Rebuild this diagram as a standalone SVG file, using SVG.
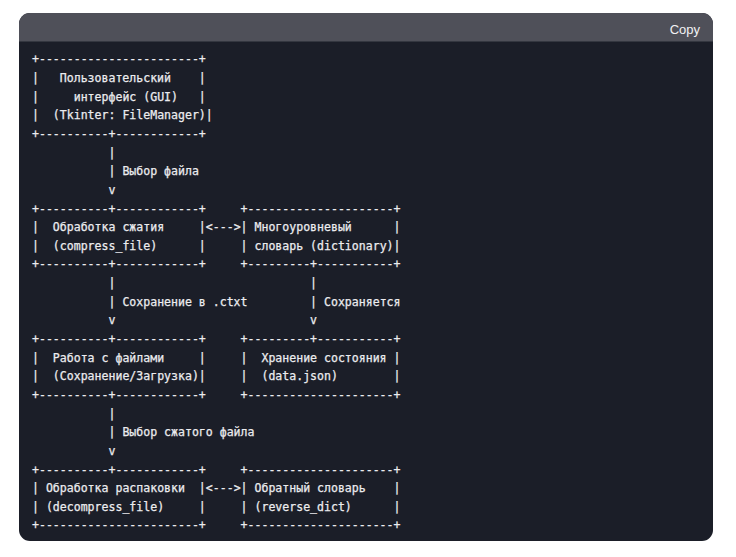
<svg xmlns="http://www.w3.org/2000/svg" width="736" height="557" viewBox="0 0 736 557">
<style>
  .code { font-family: "DejaVu Sans Mono", "Liberation Mono", monospace; font-size: 11.55px; fill: #ececef; stroke: #ececef; stroke-width: 0.25px; }
  .copy { font-family: "Liberation Sans", "Noto Sans", Arial, sans-serif; font-size: 13px; fill: #f2f2f4; }
</style>
<defs>
  <clipPath id="card"><rect x="19" y="13" width="694" height="528" rx="11" ry="11"/></clipPath>
</defs>
<rect x="0" y="0" width="736" height="557" fill="#ffffff"/>
<g id="frame" clip-path="url(#card)">
  <rect x="19" y="13" width="694" height="528" fill="#1b1e28"/>
  <rect x="19" y="13" width="694" height="28.5" fill="#4f5059"/>
</g>
<text class="copy" x="700" y="34" text-anchor="end">Copy</text>

<g id="gui" class="code">
  <text x="32" y="63.4">+-----------------------+</text>
  <text y="82.0"><tspan x="32">|</tspan><tspan x="59.81">Пользовательский</tspan><tspan x="198.87">|</tspan></text>
  <text y="100.7"><tspan x="32">|</tspan><tspan x="73.72">интерфейс (GUI)</tspan><tspan x="198.87">|</tspan></text>
  <text y="119.3"><tspan x="32">|</tspan><tspan x="52.86">(Tkinter: FileManager)|</tspan></text>
  <text x="32" y="138.0">+----------+------------+</text>
</g>

<g id="compress" class="code">
  <text x="32" y="212.5">+----------+------------+</text>
  <text y="231.2"><tspan x="32">|</tspan><tspan x="52.86">Обработка сжатия</tspan><tspan x="198.87">|</tspan></text>
  <text y="249.8"><tspan x="32">|</tspan><tspan x="52.86">(compress_file)</tspan><tspan x="198.87">|</tspan></text>
  <text x="32" y="268.4">+----------+------------+</text>
</g>

<g id="dictionary" class="code">
  <text x="240.59" y="212.5">+---------------------+</text>
  <text y="231.2"><tspan x="240.59">|</tspan><tspan x="254.50">Многоуровневый</tspan><tspan x="393.56">|</tspan></text>
  <text y="249.8"><tspan x="240.59">|</tspan><tspan x="254.50">словарь (dictionary)|</tspan></text>
  <text x="240.59" y="268.4">+---------+-----------+</text>
</g>

<g id="files" class="code">
  <text x="32" y="343.0">+----------+------------+</text>
  <text y="361.6"><tspan x="32">|</tspan><tspan x="52.86">Работа с файлами</tspan><tspan x="198.87">|</tspan></text>
  <text y="380.3"><tspan x="32">|</tspan><tspan x="52.86">(Сохранение/Загрузка)|</tspan></text>
  <text x="32" y="398.9">+----------+------------+</text>
</g>

<g id="state" class="code">
  <text x="240.59" y="343.0">+---------+-----------+</text>
  <text y="361.6"><tspan x="240.59">|</tspan><tspan x="261.45">Хранение состояния</tspan><tspan x="393.56">|</tspan></text>
  <text y="380.3"><tspan x="240.59">|</tspan><tspan x="261.45">(data.json)</tspan><tspan x="393.56">|</tspan></text>
  <text x="240.59" y="398.9">+---------------------+</text>
</g>

<g id="decompress" class="code">
  <text x="32" y="473.5">+----------+------------+</text>
  <text y="492.1"><tspan x="32">|</tspan><tspan x="45.91">Обработка распаковки</tspan><tspan x="198.87">|</tspan></text>
  <text y="510.8"><tspan x="32">|</tspan><tspan x="45.91">(decompress_file)</tspan><tspan x="198.87">|</tspan></text>
  <text x="32" y="529.4">+-----------------------+</text>
</g>

<g id="reverse" class="code">
  <text x="240.59" y="473.5">+---------------------+</text>
  <text y="492.1"><tspan x="240.59">|</tspan><tspan x="254.50">Обратный словарь</tspan><tspan x="393.56">|</tspan></text>
  <text y="510.8"><tspan x="240.59">|</tspan><tspan x="254.50">(reverse_dict)</tspan><tspan x="393.56">|</tspan></text>
  <text x="240.59" y="529.4">+---------------------+</text>
</g>

<g id="connectors" class="code">
  <text x="108.48" y="156.6">|</text>
  <text y="175.2"><tspan x="108.48">|</tspan><tspan x="122.39">Выбор файла</tspan></text>
  <text x="108.48" y="193.9">v</text>

  <text x="205.83" y="231.2">&lt;---&gt;</text>

  <text x="108.48" y="287.1">|</text>
  <text y="305.7"><tspan x="108.48">|</tspan><tspan x="122.39">Сохранение в .ctxt</tspan></text>
  <text x="108.48" y="324.4">v</text>

  <text x="310.12" y="287.1">|</text>
  <text y="305.7"><tspan x="310.12">|</tspan><tspan x="324.03">Сохраняется</tspan></text>
  <text x="310.12" y="324.4">v</text>

  <text x="108.48" y="417.6">|</text>
  <text y="436.2"><tspan x="108.48">|</tspan><tspan x="122.39">Выбор сжатого файла</tspan></text>
  <text x="108.48" y="454.8">v</text>

  <text x="205.83" y="492.1">&lt;---&gt;</text>
</g>
</svg>
